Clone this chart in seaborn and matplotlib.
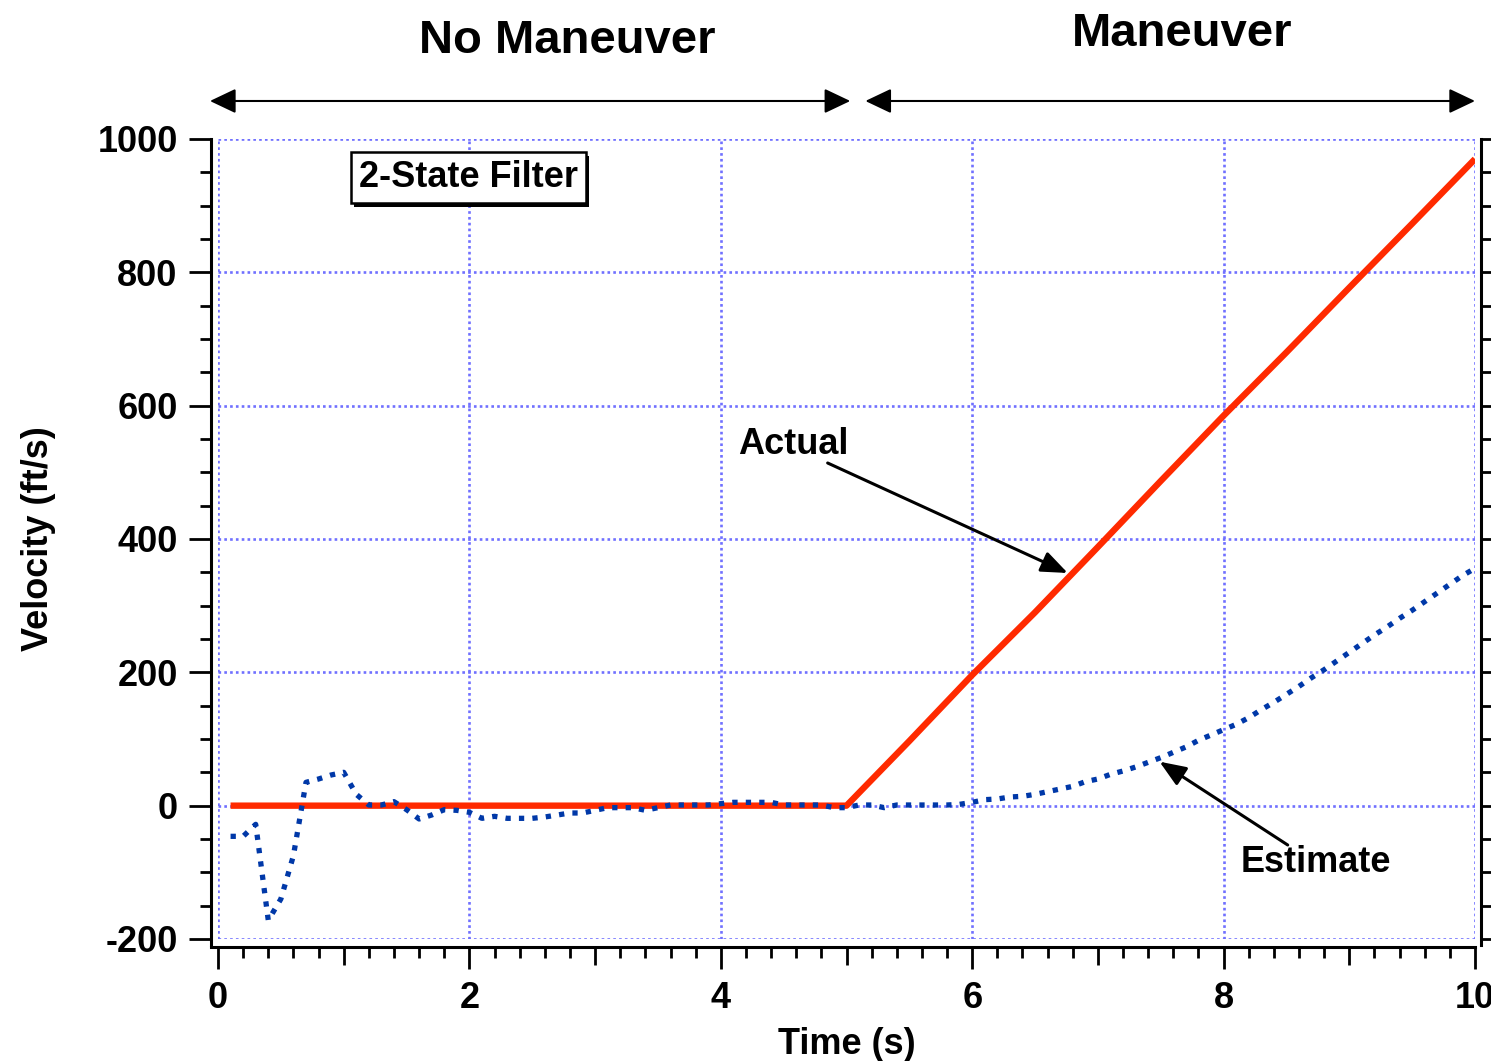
import numpy as np
import pandas as pd
import matplotlib
matplotlib.use("Agg")
import matplotlib.pyplot as plt
import matplotlib.patheffects as pe
from matplotlib.ticker import MultipleLocator
import seaborn as sns

# ---- data -------------------------------------------------------------
actual_t = [0.1, 5.0, 5.5, 6.0, 6.5, 7.0, 7.5, 8.0, 8.5, 9.0, 9.5, 10.0]
actual_v = [0, 0, 97, 196, 290, 388, 487, 585, 680, 777, 873, 970]

estimate_t = [0.1, 0.2, 0.3, 0.4, 0.5, 0.6, 0.7, 0.8, 0.9, 1.0,
              1.1, 1.2, 1.3, 1.4, 1.5, 1.6, 1.7, 1.8, 1.9, 2.0,
              2.1, 2.2, 2.3, 2.4, 2.5, 2.6, 2.7, 2.8, 2.9, 3.0,
              3.1, 3.2, 3.3, 3.4, 3.5, 3.6, 3.7, 3.8, 3.9, 4.0,
              4.1, 4.2, 4.3, 4.4, 4.5, 4.6, 4.7, 4.8, 4.9, 5.0,
              5.1, 5.2, 5.3, 5.4, 5.5, 5.6, 5.7, 5.8, 5.9, 6.0,
              6.1, 6.2, 6.3, 6.4, 6.5, 6.6, 6.7, 6.8, 6.9, 7.0,
              7.1, 7.2, 7.3, 7.4, 7.5, 7.6, 7.7, 7.8, 7.9, 8.0,
              8.1, 8.2, 8.3, 8.4, 8.5, 8.6, 8.7, 8.8, 8.9, 9.0,
              9.1, 9.2, 9.3, 9.4, 9.5, 9.6, 9.7, 9.8, 9.9, 10.0]
estimate_v = [-46, -46, -28, -172, -140, -75, 35, 40, 46, 50,
              17, 1, 1, 6, -6, -20, -14, -6, -7, -10,
              -19, -16, -19, -19, -19, -17, -14, -11, -11, -7,
              -3, -3, -3, -7, -3, 1, 1, 1, 1, 3,
              5, 5, 5, 5, 1, 1, 1, 1, -3, -3,
              1, 1, -3, 1, 1, 1, 1, 1, 2, 5,
              9, 10, 13, 14, 17, 21, 25, 29, 36, 40,
              47, 52, 58, 65, 72, 80, 88, 98, 106, 114,
              122, 132, 144, 155, 167, 179, 192, 204, 217, 230,
              243, 256, 268, 281, 293, 306, 319, 332, 345, 356]

x_ticks = [0, 2, 4, 6, 8, 10]
y_ticks = [-200, 0, 200, 400, 600, 800, 1000]

actual_df = pd.DataFrame({"Time (s)": actual_t, "Velocity (ft/s)": actual_v})
estimate_df = pd.DataFrame({"Time (s)": estimate_t, "Velocity (ft/s)": estimate_v})

# ---- style ------------------------------------------------------------
sns.set_theme(style="ticks")
plt.rcParams["font.family"] = ["Liberation Sans", "DejaVu Sans"]
plt.rcParams["font.weight"] = "bold"
plt.rcParams["axes.labelweight"] = "bold"

RED = "#ff2a00"
BLUE = "#0038a8"
GRID = "#7070ff"
FS = 26

fig = plt.figure(figsize=(14.91, 10.61), dpi=100)
ax = fig.add_axes([0.14621, 0.11499, 0.84306, 0.75401])

sns.lineplot(data=actual_df, x="Time (s)", y="Velocity (ft/s)", ax=ax,
             color=RED, lw=4.6, sort=False, estimator=None,
             solid_capstyle="butt", zorder=3)
sns.lineplot(data=estimate_df, x="Time (s)", y="Velocity (ft/s)", ax=ax,
             color=BLUE, lw=3.8, sort=False, estimator=None,
             linestyle=(0, (1, 1.55)), dash_capstyle="butt", zorder=4)

ax.set_xlim(0, 10)
ax.set_ylim(-200, 1000)

# ---- axes, ticks, grid -----------------------------------------------
ax.set_xticks(x_ticks)
ax.set_yticks(y_ticks)
ax.set_xticklabels([str(v) for v in x_ticks])
ax.set_yticklabels([str(v) for v in y_ticks])
ax.xaxis.set_minor_locator(MultipleLocator(0.2))
ax.yaxis.set_minor_locator(MultipleLocator(50))

ax.grid(True, which="major", color=GRID, lw=1.9, linestyle=(0, (1, 1.2)))

for side in ["left", "bottom", "right"]:
    ax.spines[side].set_linewidth(2.2)
    ax.spines[side].set_color("black")
ax.spines["top"].set_visible(False)
ax.spines["left"].set_position(("outward", 5))
ax.spines["bottom"].set_position(("outward", 6))
ax.spines["right"].set_position(("outward", 4.5))
ax.spines["left"].set_bounds(-209, 1000)
ax.spines["right"].set_bounds(-209, 1000)
ax.spines["bottom"].set_bounds(-0.056, 10.0)

ax.tick_params(axis="both", which="major", direction="out", width=2.0,
               length=16, labelsize=FS, color="black", labelcolor="black")
ax.tick_params(axis="both", which="minor", direction="out", width=2.0,
               length=8, color="black")
ax.tick_params(axis="y", which="both", right=True, labelright=False)
ax.tick_params(axis="y", which="major", pad=8)
ax.tick_params(axis="x", which="major", pad=8)

# medium-length ticks at the odd whole seconds
minor_locs = ax.xaxis.get_minorticklocs()
for tick, loc in zip(ax.xaxis.get_minor_ticks(len(minor_locs)), minor_locs):
    if abs(loc - round(loc)) < 1e-6 and int(round(loc)) % 2 == 1:
        tick.tick1line.set_markersize(12.7)

for lbl in ax.get_xticklabels() + ax.get_yticklabels():
    lbl.set_fontweight("bold")

ax.set_xlabel("Time (s)", fontsize=FS, fontweight="bold", labelpad=8, color="black")
ax.set_ylabel("Velocity (ft/s)", fontsize=FS, fontweight="bold", labelpad=30, color="black")

# ---- annotations -----------------------------------------------------
ax.text(2.78, 1147, "No Maneuver", fontsize=34, fontweight="bold",
        ha="center", va="center", clip_on=False, color="black")
ax.text(7.67, 1158, "Maneuver", fontsize=34, fontweight="bold",
        ha="center", va="center", clip_on=False, color="black")

span_style = dict(arrowstyle="<|-|>,head_length=0.8,head_width=0.38",
                  color="black", lw=1.5, mutation_scale=20,
                  shrinkA=0, shrinkB=0)
ax.annotate("", xy=(-0.064, 1057), xytext=(5.03, 1057),
            arrowprops=span_style, annotation_clip=False)
ax.annotate("", xy=(5.15, 1057), xytext=(10.0, 1057),
            arrowprops=span_style, annotation_clip=False)

box = ax.text(1.99, 942, "2-State Filter", fontsize=FS, fontweight="bold",
              ha="center", va="center", color="black", zorder=6,
              bbox=dict(boxstyle="square,pad=0.22", fc="white", ec="black", lw=1.8))
box.get_bbox_patch().set_path_effects(
    [pe.SimplePatchShadow(offset=(2.5, -2.5), shadow_rgbFace="black", alpha=1.0),
     pe.Normal()])

pointer = dict(arrowstyle="-|>,head_length=0.8,head_width=0.32",
               color="black", lw=2.2, mutation_scale=20,
               shrinkA=0, shrinkB=0)
ax.text(4.58, 542, "Actual", fontsize=FS, fontweight="bold",
        ha="center", va="center", color="black")
ax.annotate("", xy=(6.76, 349), xytext=(4.85, 514), arrowprops=pointer)

ax.text(8.735, -86, "Estimate", fontsize=FS, fontweight="bold",
        ha="center", va="center", color="black")
ax.annotate("", xy=(7.49, 66), xytext=(8.51, -59), arrowprops=pointer)

fig.savefig("out.png", dpi=100)
